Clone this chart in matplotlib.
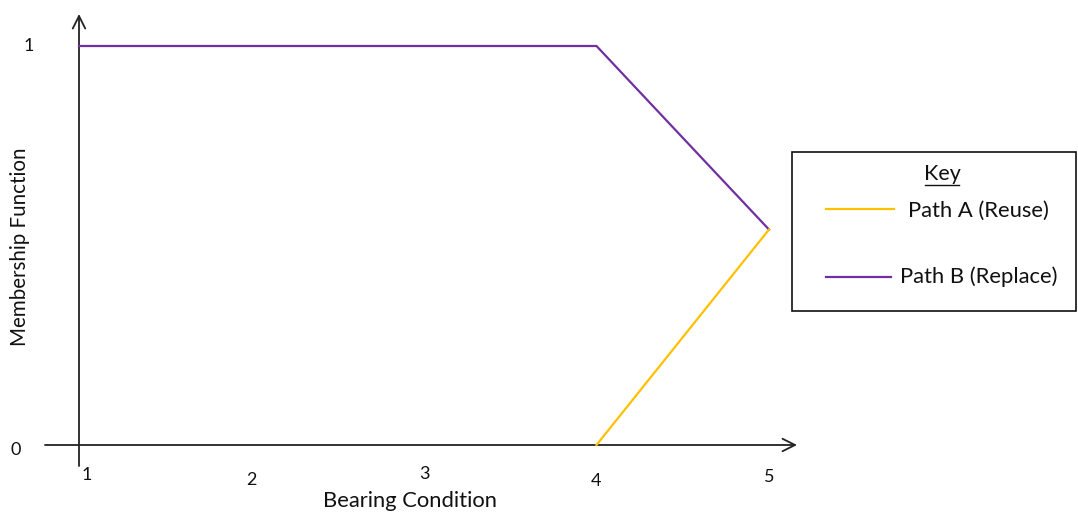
import matplotlib
matplotlib.use("Agg")
import matplotlib.pyplot as plt
from matplotlib.patches import Rectangle
from matplotlib.lines import Line2D

plt.rcParams['font.family'] = ['Lato', 'DejaVu Sans']

# Membership data
path_a_x = [4, 5]
path_a_y = [0, 0.54]
path_b_x = [1, 4, 5]
path_b_y = [1, 1, 0.54]
x_ticks = [1, 2, 3, 4, 5]
x_tick_labels = ["1", "2", "3", "4", "5"]
y_ticks = [0, 1]
y_tick_labels = ["0", "1"]

COL_A = "#FFC000"
COL_B = "#7030A0"
TXT = "#111111"

W, H = 1078, 518
fig = plt.figure(figsize=(W / 100, H / 100), dpi=100)
ax = fig.add_axes([0, 0, 1, 1])
ax.set_axis_off()

# pixel frame: x=1 at px 79, x unit 172.5 px; y=0 at px 445, y unit 399 px
x0_px, xu = 79, 172.5
y0_px, yu = 445, 399
ax.set_xlim(1 - x0_px / xu, 1 + (W - x0_px) / xu)
ax.set_ylim(-(H - y0_px) / yu, y0_px / yu)

# axes with open arrowheads
arrow = dict(arrowstyle="->,head_length=0.9,head_width=0.45", color="#222222", lw=1.3,
             shrinkA=0, shrinkB=0)
ax.annotate("", xy=(1, 1 + 32 / yu), xytext=(1, -21 / yu), arrowprops=arrow)
ax.annotate("", xy=(1 + 718 / xu, 0), xytext=(1 - 34 / xu, 0), arrowprops=arrow)

ax.plot(path_b_x, path_b_y, color=COL_B, lw=1.6, solid_joinstyle="miter", zorder=3)
ax.plot(path_a_x, path_a_y, color=COL_A, lw=1.6, zorder=3)

# tick labels (pixel offsets from the tick position)
x_label_dx = [8, 0, 0, 0, 0]
x_label_dy = [30, 35, 29, 36, 32]
for v, lab, dx, dy in zip(x_ticks, x_tick_labels, x_label_dx, x_label_dy):
    ax.annotate(lab, xy=(v, 0), xytext=(dx * 0.72, -dy * 0.72),
                textcoords="offset points", ha="center", va="center", fontsize=13,
                color=TXT)
y_label_px = [16, 29]
y_label_dy = [5, 0]
for v, lab, xp, dy in zip(y_ticks, y_tick_labels, y_label_px, y_label_dy):
    ax.annotate(lab, xy=(1, v), xytext=((xp - x0_px) * 0.72, -dy * 0.72),
                textcoords="offset points", ha="center", va="center", fontsize=13,
                color=TXT)

fig.text(410 / W, 1 - 501 / H, "Bearing Condition", ha="center", va="center", fontsize=15.8,
         color=TXT)
fig.text(20 / W, 1 - 247 / H, "Membership Function", ha="center", va="center", rotation=90,
         fontsize=14.8, color=TXT)

# key box
fig.patches.append(Rectangle((792 / W, 1 - 311 / H), 284 / W, 159 / H, transform=fig.transFigure,
                             fill=False, edgecolor=TXT, lw=1.2))
fig.text(942 / W, 1 - 174 / H, "Key", ha="center", va="center", fontsize=15.5, color=TXT)
fig.add_artist(Line2D([925 / W, 959 / W], [1 - 185 / H, 1 - 185 / H], color=TXT, lw=1.0))
fig.add_artist(Line2D([826 / W, 894 / W], [1 - 209 / H, 1 - 209 / H], color=COL_A, lw=1.6))
fig.text(908 / W, 1 - 211 / H, "Path A (Reuse)", ha="left", va="center", fontsize=15.8, color=TXT)
fig.add_artist(Line2D([826 / W, 891 / W], [1 - 277 / H, 1 - 277 / H], color=COL_B, lw=1.6))
fig.text(900 / W, 1 - 277 / H, "Path B (Replace)", ha="left", va="center", fontsize=15.8, color=TXT)

fig.savefig("out.png", dpi=100, facecolor="white")
